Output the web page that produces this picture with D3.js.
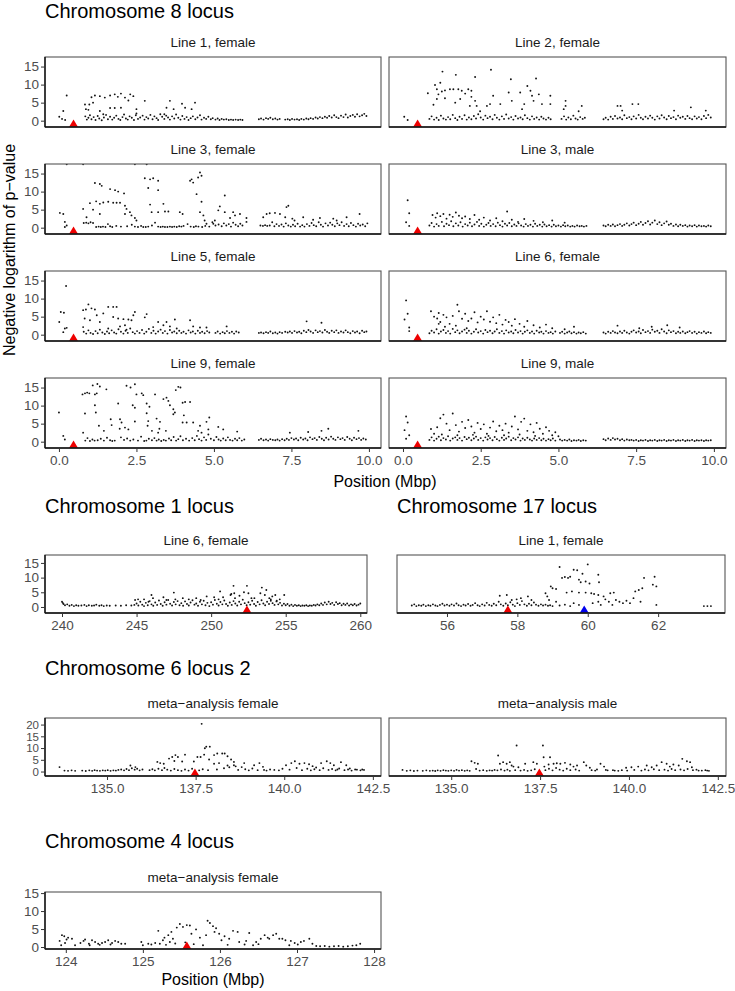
<!DOCTYPE html>
<html><head><meta charset="utf-8">
<script src="https://cdn.jsdelivr.net/npm/d3@7"></script>
<style>
body{margin:0;background:#fff;}
svg{display:block;font-family:"Liberation Sans",Arial,sans-serif;}
</style></head>
<body>
<svg id="chart" width="735" height="991"></svg>
<script>
// ---------------- DATA ----------------
const sectionTitles = ["Chromosome 8 locus","Chromosome 1 locus","Chromosome 17 locus","Chromosome 6 locus 2","Chromosome 4 locus"];
const chr8Ticks = [0, 2.5, 5, 7.5, 10];
const chr1Ticks = [240, 245, 250, 255, 260];
const chr17Ticks = [56, 58, 60, 62];
const chr6Ticks = [135, 137.5, 140, 142.5];
const chr4Ticks = [124, 125, 126, 127, 128];
const yTicksA = [0, 5, 10, 15];
const yTicksB = [0, 5, 10, 15, 20];

// Chromosome 8, Line 1 female
const chr8_L1F = [[0.25,7.0],[0.14,2.7],[0.01,1.1],[0.1,0.5],[0.2,0.2],
[1.05,6.5],[1.16,7.0],[1.32,6.8],[1.48,6.4],[1.65,7.0],[1.8,7.3],[1.9,6.6],[2.0,7.5],[2.13,6.4],[2.3,7.3],[2.4,6.8],[2.24,5.6],
[0.84,4.5],[0.98,4.5],[1.1,5.0],[0.87,3.2],[0.95,3.0],[1.32,2.7],[1.65,3.5],[1.8,3.5],[2.0,3.6],[2.5,3.2],[2.77,5.5],[3.58,5.5],[3.47,3.6],[3.7,3.2],[3.97,4.7],[4.07,3.6],[4.39,5.0],[4.28,3.2],[2.5,2.0],[1.43,1.8],[3.4,1.8],
[0.85,1.2],[0.9,0.3],[0.95,0.8],[1.0,1.5],[1.05,0.4],[1.12,1.0],[1.18,0.2],[1.25,1.3],[1.3,0.6],[1.38,0.1],[1.45,0.9],[1.52,1.6],[1.58,0.4],[1.65,1.1],[1.72,0.3],[1.78,0.8],[1.85,1.4],[1.92,0.5],[1.98,0.2],[2.05,1.0],[2.1,1.7],[2.16,0.6],[2.22,0.3],[2.28,1.2],[2.35,0.8],[2.42,0.2],[2.48,1.5],[2.55,0.5],[2.62,0.9],[2.7,1.4],[2.76,0.3],[2.82,1.0],[2.88,0.6],[2.95,1.6],[3.02,0.4],[3.08,1.2],[3.15,0.7],[3.2,0.2],[3.27,1.8],[3.33,1.1],[3.4,0.5],[3.46,1.4],[3.52,0.9],[3.58,0.3],[3.65,1.2],[3.72,0.6],[3.78,1.7],[3.85,0.8],[3.92,0.3],[3.98,1.3],[4.05,0.5],[4.12,1.0],[4.18,0.2],[4.25,0.7],[4.32,1.2],[4.4,0.4],[4.47,0.9],[4.55,1.5],[4.6,0.3],[4.68,0.8],[4.75,0.5],[4.82,1.1],[4.9,0.4],[4.96,0.7],[5.05,0.3],[5.12,0.6],[5.18,0.2],[5.25,0.5],[5.32,0.3],[5.4,0.4],[5.48,0.2],[5.55,0.3],[5.62,0.2],[5.7,0.3],[5.78,0.2],[5.85,0.3],[5.92,0.2],[6.45,0.4],[6.52,0.6],[6.6,0.3],[6.68,0.7],[6.75,0.5],[6.82,0.8],[6.9,0.4],[6.98,0.6],[7.05,0.3],[7.12,0.5],[7.3,0.3],[7.38,0.4],[7.45,0.2],[7.52,0.5],[7.6,0.3],[7.68,0.4],[7.75,0.2],[7.82,0.5],[7.9,0.3],[7.98,0.6],[8.05,0.4],[8.12,0.7],[8.2,0.5],[8.28,0.9],[8.35,0.6],[8.42,1.0],[8.5,0.7],[8.58,1.1],[8.65,0.8],[8.72,1.3],[8.8,0.9],[8.88,1.5],[8.95,1.0],[9.02,0.7],[9.1,1.4],[9.18,1.0],[9.25,1.7],[9.32,0.9],[9.4,1.3],[9.48,1.6],[9.55,1.1],[9.62,1.8],[9.7,1.2],[9.78,1.5],[9.85,1.9],[9.92,1.3]];

// Chromosome 8, Line 2 female
const chr8_L2F = [[0.04,1.1],[0.15,0.2],
[1.27,13.6],[1.7,12.7],[2.32,12.1],[2.83,14.1],[3.47,11.5],[4.28,11.7],
[0.8,7.6],[1.03,9.9],[1.09,8.7],[1.2,10.5],[1.14,7.3],[1.25,8.1],[1.35,8.4],[1.51,8.7],[1.62,8.7],[1.78,8.7],[1.89,8.3],[2.0,7.5],[2.1,8.7],[2.2,8.3],[1.35,6.2],[1.09,6.0],[0.98,4.4],[1.68,5.0],[1.84,6.0],[2.2,6.6],[2.32,5.5],[2.15,4.1],[2.37,4.1],[2.48,2.6],[2.7,4.1],[2.9,6.9],[2.8,4.6],[3.13,4.6],[3.4,7.8],[3.5,5.5],[3.77,7.8],[3.9,4.6],[4.0,9.6],[4.1,8.3],[4.15,6.9],[4.37,7.3],[4.47,4.6],[4.74,6.9],[4.74,4.6],[3.83,3.2],[4.2,5.5],[5.23,5.5],[5.23,4.1],[5.17,3.2],[5.75,4.1],[5.65,2.6],[6.9,4.1],[7.0,4.1],[7.38,4.6],[7.57,4.6],[7.05,2.8],[8.72,2.8],[9.26,3.7],[9.74,2.8],
[0.85,0.5],[0.92,1.2],[1.0,0.3],[1.08,0.8],[1.15,0.2],[1.22,1.4],[1.3,0.6],[1.38,0.3],[1.45,1.0],[1.52,0.4],[1.6,1.6],[1.68,0.7],[1.75,0.2],[1.82,1.1],[1.9,0.5],[1.98,1.5],[2.05,0.3],[2.12,0.9],[2.2,0.4],[2.28,1.3],[2.35,0.6],[2.42,1.8],[2.5,0.9],[2.58,0.3],[2.65,1.4],[2.72,0.7],[2.8,1.1],[2.88,0.4],[2.95,1.6],[3.02,0.8],[3.1,0.3],[3.18,1.2],[3.25,0.5],[3.32,1.7],[3.4,0.6],[3.48,1.0],[3.55,0.3],[3.62,1.3],[3.7,0.6],[3.78,0.9],[3.85,0.4],[3.92,1.5],[4.0,0.7],[4.08,0.3],[4.15,1.2],[4.22,0.5],[4.3,0.9],[4.38,0.3],[4.45,1.1],[4.52,0.6],[4.6,0.3],[4.68,0.8],[4.75,0.4],[5.1,0.5],[5.18,1.2],[5.25,0.3],[5.32,0.9],[5.4,0.4],[5.48,1.4],[5.55,0.6],[5.62,0.3],[5.7,1.0],[5.78,0.5],[5.85,0.8],[6.45,0.4],[6.52,0.8],[6.6,0.3],[6.68,1.1],[6.75,0.5],[6.82,1.3],[6.9,0.6],[6.98,0.9],[7.05,0.4],[7.12,1.5],[7.2,0.7],[7.28,1.0],[7.35,0.4],[7.42,1.2],[7.5,0.6],[7.58,1.6],[7.65,0.8],[7.72,0.4],[7.8,1.1],[7.88,0.6],[7.95,1.4],[8.02,0.8],[8.1,0.3],[8.18,1.2],[8.25,0.6],[8.32,1.5],[8.4,0.9],[8.48,0.4],[8.55,1.3],[8.62,0.7],[8.7,1.0],[8.78,0.4],[8.85,1.4],[8.92,0.8],[9.0,1.1],[9.08,0.5],[9.15,1.3],[9.22,0.7],[9.3,0.4],[9.38,1.2],[9.45,0.6],[9.52,1.0],[9.6,0.4],[9.68,1.3],[9.75,0.7],[9.82,1.6],[9.9,0.9]];

// Chromosome 8, Line 3 female
const chr8_L3F = [[0.25,17.6],[0.78,17.6],[2.45,17.6],[2.83,17.6],
[0.03,4.1],[0.14,3.8],[0.19,1.6],[0.25,0.6],[0.19,0.2],
[1.16,12.4],[1.32,12.1],[1.38,11.6],[1.65,10.7],[1.81,10.4],[1.91,10.0],[2.1,9.5],
[0.78,5.2],[1.0,6.8],[1.1,5.0],[1.2,7.3],[1.32,6.6],[1.43,7.0],[1.59,7.2],[1.75,6.9],[1.86,6.9],[1.97,6.9],[2.13,6.1],[2.18,5.2],[2.13,3.8],[2.29,4.3],[2.34,3.4],[2.45,2.7],[2.5,2.0],[0.89,2.9],[1.32,3.8],
[2.77,13.7],[2.94,13.4],[3.04,13.7],[3.2,13.0],[2.88,11.0],[3.2,10.4],[2.94,6.4],[2.99,4.3],[3.37,6.6],[3.2,4.3],[3.42,4.5],[3.53,4.5],[3.9,4.3],[3.99,3.8],
[4.23,13.0],[4.33,12.5],[4.28,13.4],[4.49,13.9],[4.55,15.3],[4.6,14.4],[4.44,9.3],[4.6,7.2],[4.55,4.3],[4.66,3.4],[4.7,2.0],[4.76,1.1],[4.98,1.1],[5.03,2.0],
[5.19,5.9],[5.14,4.8],[5.35,4.3],[5.35,8.9],[5.52,2.7],[5.62,4.3],[5.68,3.4],[5.84,3.8],[6.05,2.7],
[7.4,6.1],[7.34,5.7],[6.59,2.9],[6.7,3.8],[6.8,4.0],[6.97,4.1],[7.13,3.8],[7.3,2.9],[7.53,2.5],[7.6,2.0],[7.88,2.9],[8.2,2.2],[8.42,2.7],[8.85,2.5],[9.28,2.9],[9.7,3.8],[8.96,2.0],
[0.8,1.3],[0.88,1.4],[0.95,1.2],[1.02,1.5],[1.1,1.3],[1.2,0.2],[1.28,0.3],[1.35,0.2],[1.42,0.3],[1.5,0.2],[1.58,1.0],[1.65,0.4],[1.72,0.2],[1.85,0.5],[2.0,0.3],[2.2,0.4],[2.35,0.8],[2.45,0.3],[2.55,0.2],[2.65,0.5],[2.72,0.2],[2.8,0.2],[2.88,0.3],[3.0,0.6],[3.1,1.4],[3.2,0.3],[3.28,0.2],[3.35,0.3],[3.42,0.2],[3.5,0.2],[3.58,0.3],[3.65,0.2],[3.72,0.3],[3.8,0.2],[3.88,0.4],[3.95,0.3],[4.02,0.5],[4.15,1.0],[4.25,0.3],[4.35,0.2],[4.42,0.4],[4.5,0.3],[4.62,0.2],[4.72,0.5],[4.85,0.3],[4.95,1.5],[5.05,0.6],[5.15,0.9],[5.25,0.4],[5.32,1.2],[5.4,0.6],[5.48,1.0],[5.55,0.3],[5.62,1.4],[5.7,0.8],[5.78,0.4],[5.85,1.1],[5.92,0.6],[6.05,1.6],[6.5,0.6],[6.58,0.5],[6.65,0.7],[6.72,0.5],[6.8,0.6],[6.88,1.5],[6.95,0.4],[7.02,1.0],[7.1,0.5],[7.18,0.9],[7.25,0.3],[7.32,1.2],[7.4,0.6],[7.48,0.3],[7.55,0.8],[7.62,0.4],[7.7,1.1],[7.78,0.3],[7.85,0.7],[7.92,0.3],[8.0,1.0],[8.08,0.5],[8.15,1.3],[8.22,0.7],[8.3,0.4],[8.38,1.5],[8.45,0.8],[8.52,0.3],[8.6,1.2],[8.68,0.6],[8.75,1.4],[8.82,0.8],[8.9,0.4],[8.98,1.2],[9.05,0.7],[9.12,1.5],[9.2,0.5],[9.28,1.0],[9.35,0.4],[9.42,1.3],[9.5,0.7],[9.58,0.3],[9.65,1.1],[9.72,0.6],[9.8,0.9],[9.88,0.4],[9.95,1.2]];

// Chromosome 8, Line 3 male
const chr8_L3M = [[0.15,7.6],[0.2,4.0],[0.1,1.5],[0.2,0.5],
[0.95,3.5],[1.05,2.8],[1.1,4.0],[1.2,3.2],[1.3,3.8],[1.4,2.5],[1.5,3.6],[1.6,3.0],[1.7,4.2],[1.8,3.3],[1.9,2.6],[2.0,3.1],[2.15,2.4],[2.3,3.5],[2.45,2.2],[2.6,2.8],[2.8,2.0],[3.0,2.6],[3.2,1.8],[3.35,4.5],[3.5,2.2],[3.7,1.6],[3.9,2.4],[4.2,1.9],[4.5,1.5],[4.8,2.0],[5.2,1.4],
[0.85,0.6],[0.92,1.3],[1.0,0.3],[1.08,1.0],[1.15,0.5],[1.25,1.6],[1.32,0.4],[1.4,1.1],[1.48,0.7],[1.55,1.8],[1.62,0.4],[1.7,1.2],[1.78,0.6],[1.85,1.5],[1.92,0.3],[2.0,1.0],[2.08,0.6],[2.15,1.4],[2.22,0.4],[2.3,0.9],[2.38,1.6],[2.45,0.5],[2.52,1.1],[2.6,0.3],[2.68,0.8],[2.75,1.3],[2.82,0.5],[2.9,1.0],[2.98,0.4],[3.05,1.4],[3.12,0.7],[3.2,0.3],[3.28,1.1],[3.35,0.6],[3.42,1.3],[3.5,0.4],[3.58,0.9],[3.65,0.5],[3.72,1.2],[3.8,0.6],[3.88,0.3],[3.95,1.0],[4.02,0.5],[4.1,0.8],[4.18,0.3],[4.25,1.1],[4.32,0.5],[4.4,0.8],[4.48,0.3],[4.55,0.9],[4.62,0.4],[4.7,0.7],[4.78,0.3],[4.85,0.8],[4.92,0.4],[5.0,0.6],[5.08,0.3],[5.15,0.7],[5.22,0.4],[5.3,0.6],[5.38,0.3],[5.45,0.5],[5.52,0.3],[5.6,0.6],[5.68,0.4],[5.75,0.5],[5.82,0.3],[5.9,0.5],[6.45,0.6],[6.52,0.4],[6.6,0.8],[6.68,0.5],[6.75,0.9],[6.82,0.4],[6.9,0.7],[6.98,1.0],[7.05,0.5],[7.12,0.8],[7.2,1.2],[7.28,0.6],[7.35,1.0],[7.42,1.4],[7.5,0.7],[7.58,1.1],[7.65,1.6],[7.72,0.8],[7.8,1.3],[7.88,1.8],[7.95,0.9],[8.02,1.4],[8.1,2.0],[8.18,1.0],[8.25,1.5],[8.32,0.7],[8.4,1.2],[8.48,1.7],[8.55,0.8],[8.62,1.1],[8.7,0.5],[8.78,0.9],[8.85,0.4],[8.92,0.8],[9.0,0.5],[9.08,0.7],[9.15,0.3],[9.22,0.6],[9.3,0.4],[9.38,0.7],[9.45,0.3],[9.52,0.6],[9.6,0.4],[9.68,0.5],[9.75,0.3],[9.82,0.6],[9.9,0.4]];

// Chromosome 8, Line 5 female
const chr8_L5F = [[0.01,3.5],[0.06,6.3],[0.16,6.1],[0.23,13.5],[0.19,1.7],[0.25,1.9],[0.14,0.7],
[0.78,6.8],[0.87,7.0],[0.95,8.4],[1.05,7.3],[1.16,7.0],[1.22,5.4],[0.83,4.5],[1.0,4.0],[1.32,3.5],[1.43,5.9],[1.59,7.7],[1.75,7.7],[1.86,7.7],[1.75,4.9],[1.91,4.5],[2.08,4.3],[2.24,4.2],[2.34,4.0],[2.4,5.4],[2.45,6.3],[0.78,2.1],[1.59,1.7],[1.97,2.3],[2.13,2.6],[2.18,1.4],
[2.83,5.7],[2.77,4.8],[3.2,3.5],[3.47,3.5],[3.74,4.2],[4.23,4.0],[3.04,2.1],[3.37,2.6],[3.58,2.3],[3.8,1.7],[4.33,2.3],[4.55,2.0],[4.76,2.0],[5.41,2.3],[7.99,3.7],[8.47,3.3],
[0.8,0.8],[0.88,0.3],[0.95,1.2],[1.02,0.5],[1.1,0.2],[1.18,1.0],[1.25,0.4],[1.32,1.4],[1.4,0.6],[1.48,0.2],[1.55,0.9],[1.62,0.4],[1.7,1.2],[1.78,0.6],[1.85,0.3],[1.92,1.5],[2.0,0.8],[2.08,0.3],[2.15,1.1],[2.22,0.5],[2.3,1.7],[2.38,0.7],[2.45,0.3],[2.52,1.0],[2.6,0.5],[2.68,1.3],[2.75,0.3],[2.82,0.8],[2.9,1.6],[2.98,0.5],[3.05,1.1],[3.12,0.3],[3.2,0.9],[3.28,1.4],[3.35,0.5],[3.42,1.0],[3.5,0.3],[3.58,1.3],[3.65,0.6],[3.72,0.9],[3.8,0.4],[3.88,1.1],[3.95,0.5],[4.02,0.8],[4.1,0.3],[4.18,1.2],[4.25,0.6],[4.32,0.9],[4.4,0.3],[4.48,1.1],[4.55,0.5],[4.62,0.8],[4.7,0.4],[4.78,1.0],[4.85,0.6],[5.05,0.5],[5.12,0.9],[5.2,0.3],[5.28,0.7],[5.35,0.4],[5.42,1.0],[5.5,0.5],[5.58,0.8],[5.65,0.3],[5.72,0.9],[5.8,0.6],[6.45,0.5],[6.52,0.6],[6.6,0.4],[6.68,0.7],[6.75,0.5],[6.82,0.9],[6.9,0.4],[6.98,0.6],[7.05,0.3],[7.12,0.7],[7.2,0.5],[7.3,0.8],[7.38,0.6],[7.45,0.9],[7.52,0.5],[7.6,1.0],[7.68,0.6],[7.75,0.8],[7.82,0.4],[7.9,1.1],[7.98,0.7],[8.05,1.3],[8.12,0.9],[8.2,0.5],[8.28,1.2],[8.35,0.7],[8.42,1.0],[8.5,0.6],[8.58,1.3],[8.65,0.8],[8.72,0.5],[8.8,1.1],[8.88,0.7],[8.95,1.2],[9.02,0.5],[9.1,0.9],[9.18,0.6],[9.25,1.2],[9.32,0.7],[9.4,0.4],[9.48,1.0],[9.55,0.6],[9.62,0.9],[9.7,0.4],[9.78,1.1],[9.85,0.7],[9.92,0.9]];

// Chromosome 8, Line 6 female
const chr8_L6F = [[0.1,9.5],[0.15,5.8],[0.05,4.2],[0.2,2.0],[0.2,1.0],
[0.9,6.5],[1.0,5.0],[1.1,4.5],[1.15,6.0],[1.2,3.5],[1.3,5.5],[1.4,4.8],[1.5,3.0],[1.6,5.2],[1.75,8.3],[1.8,6.5],[1.9,4.4],[2.0,5.8],[2.1,3.8],[2.2,4.5],[2.3,6.2],[2.4,3.4],[2.5,5.0],[2.6,4.2],[2.7,6.5],[2.8,3.6],[2.9,4.8],[3.0,3.2],[3.1,5.5],[3.2,2.8],[3.3,4.1],[3.4,3.5],[3.5,2.5],[3.6,4.3],[3.75,3.0],[3.9,2.2],[4.0,3.8],[4.2,2.6],[4.4,2.0],[4.6,2.8],[4.8,1.8],[5.2,1.5],[5.5,2.2],[6.9,2.5],[7.6,1.8],[8.0,2.2],[8.5,2.6],[8.9,2.0],[1.15,3.0],[1.35,2.2],[1.7,2.5],[2.05,1.8],
[0.85,0.4],[0.92,1.1],[1.0,0.6],[1.08,1.5],[1.15,0.3],[1.22,0.9],[1.3,1.3],[1.38,0.5],[1.45,1.0],[1.52,0.3],[1.6,1.6],[1.68,0.7],[1.75,1.2],[1.82,0.4],[1.9,0.9],[1.98,1.4],[2.05,0.5],[2.12,1.1],[2.2,0.3],[2.28,0.8],[2.35,1.5],[2.42,0.6],[2.5,1.0],[2.58,0.3],[2.65,1.3],[2.72,0.7],[2.8,1.1],[2.88,0.4],[2.95,0.9],[3.02,1.5],[3.1,0.5],[3.18,1.0],[3.25,0.3],[3.32,1.2],[3.4,0.6],[3.48,0.9],[3.55,0.4],[3.62,1.3],[3.7,0.6],[3.78,1.0],[3.85,0.3],[3.92,0.8],[4.0,1.2],[4.08,0.5],[4.15,0.9],[4.22,0.3],[4.3,1.1],[4.38,0.6],[4.45,0.8],[4.52,0.3],[4.6,1.0],[4.68,0.5],[4.75,0.7],[4.82,0.3],[4.9,0.9],[5.05,0.5],[5.12,0.8],[5.2,0.3],[5.28,0.6],[5.35,0.9],[5.42,0.4],[5.5,0.7],[5.58,0.3],[5.65,0.6],[5.72,0.4],[5.8,0.7],[5.88,0.3],[6.45,0.6],[6.52,0.3],[6.6,0.8],[6.68,0.5],[6.75,1.0],[6.82,0.6],[6.9,0.4],[6.98,0.9],[7.05,0.5],[7.12,1.1],[7.2,0.6],[7.28,0.3],[7.35,0.8],[7.42,1.2],[7.5,0.6],[7.58,0.9],[7.65,0.4],[7.72,1.3],[7.8,0.7],[7.88,1.0],[7.95,0.5],[8.02,1.4],[8.1,0.8],[8.18,1.1],[8.25,0.5],[8.32,1.5],[8.4,0.9],[8.48,0.4],[8.55,1.2],[8.62,0.7],[8.7,1.0],[8.78,0.4],[8.85,0.8],[8.92,0.5],[9.0,0.9],[9.08,0.4],[9.15,0.7],[9.22,1.0],[9.3,0.5],[9.38,0.8],[9.45,0.3],[9.52,0.7],[9.6,0.5],[9.68,0.9],[9.75,0.4],[9.82,0.7],[9.9,0.5]];

// Chromosome 8, Line 9 female
const chr8_L9F = [[0.0,8.1],[0.14,1.6],[0.19,0.6],
[0.76,13.1],[0.84,13.4],[0.91,13.6],[0.98,13.4],[1.09,15.6],[1.24,16.0],[1.32,15.3],[1.53,14.5],[1.16,13.1],[1.22,13.4],[1.16,10.1],[1.19,8.1],[0.84,7.8],[1.29,4.4],[1.45,3.0],[1.67,6.2],[1.7,4.6],[0.78,2.5],
[2.18,15.5],[2.31,15.0],[2.45,15.9],[2.5,13.1],[2.67,13.4],[2.72,12.9],[2.38,10.1],[2.45,9.4],[1.91,10.6],[1.97,6.2],[2.02,5.3],[1.96,3.6],[2.13,3.9],[2.24,3.4],[2.45,5.6],[2.83,10.6],[2.92,9.7],[2.83,7.9],[2.88,5.7],[2.86,4.4],[3.0,3.0],[3.1,13.1],[3.15,6.4],[3.26,5.5],[3.24,3.6],[3.2,2.5],[3.37,11.8],[3.47,12.2],[3.53,11.3],[3.58,10.1],[3.69,9.0],[3.74,8.1],[3.69,7.6],[3.45,3.0],[3.77,14.3],[3.85,15.2],[3.92,15.0],[3.99,10.8],[4.07,11.0],[4.23,11.0],[4.03,7.3],[3.99,5.3],[4.12,5.3],[4.33,5.3],[4.55,4.4],[4.76,5.5],[4.85,6.7],[4.82,3.4],[4.49,3.0],[4.6,2.5],[5.14,4.1],[5.3,3.4],[5.75,2.8],[7.45,2.5],[8.04,2.7],[8.47,3.0],[8.69,3.6],[9.66,3.0],
[0.85,0.3],[0.92,1.0],[1.0,0.2],[1.08,0.6],[1.15,0.3],[1.25,0.4],[1.35,0.8],[1.45,0.3],[1.55,1.1],[1.65,0.4],[1.72,0.2],[1.8,0.3],[2.0,1.2],[2.1,0.5],[2.2,0.9],[2.3,0.3],[2.4,0.6],[2.55,0.3],[2.65,1.4],[2.75,0.2],[2.82,0.3],[2.9,0.8],[3.0,0.4],[3.08,1.0],[3.15,0.3],[3.22,0.6],[3.3,0.2],[3.38,0.5],[3.45,0.3],[3.55,0.9],[3.62,0.4],[3.7,1.3],[3.78,0.3],[3.85,0.7],[3.92,1.5],[4.0,0.4],[4.1,0.8],[4.2,0.3],[4.3,1.0],[4.38,0.4],[4.45,1.6],[4.52,0.7],[4.6,0.3],[4.68,1.2],[4.75,0.5],[4.82,2.0],[4.9,0.8],[5.0,0.4],[5.08,1.3],[5.15,0.6],[5.22,0.3],[5.3,0.9],[5.38,0.4],[5.45,1.2],[5.52,0.5],[5.6,0.3],[5.68,0.8],[5.75,0.4],[5.82,1.0],[5.9,0.3],[5.98,0.6],[6.45,0.5],[6.52,0.8],[6.6,0.4],[6.68,0.6],[6.75,0.3],[6.82,0.7],[6.9,0.5],[6.98,0.4],[7.05,0.6],[7.12,0.3],[7.2,0.7],[7.28,0.4],[7.35,0.8],[7.42,0.5],[7.5,1.0],[7.58,0.6],[7.65,0.9],[7.72,0.4],[7.8,1.1],[7.88,0.6],[7.95,0.9],[8.02,0.4],[8.1,1.2],[8.18,0.7],[8.25,1.0],[8.32,0.5],[8.4,1.3],[8.48,0.8],[8.55,0.4],[8.62,1.1],[8.7,0.6],[8.78,1.4],[8.85,0.8],[8.92,0.5],[9.0,1.2],[9.08,0.7],[9.15,1.0],[9.22,0.5],[9.3,1.3],[9.38,0.8],[9.45,0.4],[9.52,1.1],[9.6,0.7],[9.68,1.0],[9.75,0.5],[9.82,0.9],[9.9,0.6]];

// Chromosome 8, Line 9 male
const chr8_L9M = [[0.1,7.0],[0.15,5.3],[0.05,3.2],[0.2,1.8],[0.1,0.8],
[0.9,3.5],[1.0,2.2],[1.1,4.0],[1.2,6.5],[1.3,7.5],[1.4,5.0],[1.5,3.2],[1.6,7.8],[1.7,4.6],[1.8,2.8],[1.9,5.5],[2.0,3.8],[2.1,6.0],[2.2,4.2],[2.3,2.5],[2.4,5.2],[2.5,3.5],[2.6,4.8],[2.7,2.2],[2.8,3.9],[2.9,5.6],[3.0,2.9],[3.1,4.4],[3.2,3.2],[3.3,5.0],[3.4,2.5],[3.5,4.2],[3.6,7.0],[3.7,3.4],[3.8,5.5],[3.9,6.4],[4.0,3.0],[4.1,4.8],[4.2,2.6],[4.3,5.2],[4.4,3.6],[4.5,2.2],[4.6,4.0],[4.7,3.0],[4.8,1.8],[4.9,2.6],[5.0,1.5],[1.25,2.0],[1.75,1.8],[2.25,1.9],[2.75,1.6],[3.25,1.8],[3.75,2.0],[4.25,1.6],
[0.85,0.5],[0.92,1.2],[1.0,0.3],[1.08,0.8],[1.15,1.4],[1.22,0.4],[1.3,1.0],[1.38,0.6],[1.45,1.5],[1.52,0.3],[1.6,0.9],[1.68,1.2],[1.75,0.5],[1.82,1.0],[1.9,0.3],[1.98,1.3],[2.05,0.7],[2.12,1.1],[2.2,0.4],[2.28,0.9],[2.35,1.4],[2.42,0.5],[2.5,1.0],[2.58,0.3],[2.65,1.2],[2.72,0.6],[2.8,1.0],[2.88,0.4],[2.95,1.3],[3.02,0.7],[3.1,0.3],[3.18,1.1],[3.25,0.5],[3.32,0.9],[3.4,1.4],[3.48,0.4],[3.55,1.0],[3.62,0.6],[3.7,1.2],[3.78,0.3],[3.85,0.9],[3.92,0.5],[4.0,1.1],[4.08,0.6],[4.15,0.3],[4.22,0.9],[4.3,0.5],[4.38,1.0],[4.45,0.4],[4.52,0.8],[4.6,0.3],[4.68,0.7],[4.75,0.4],[4.82,0.9],[4.9,0.3],[5.05,0.6],[5.12,0.3],[5.2,0.5],[5.28,0.3],[5.35,0.6],[5.42,0.2],[5.5,0.4],[5.58,0.3],[5.65,0.5],[5.72,0.2],[5.8,0.4],[5.88,0.3],[6.45,0.7],[6.52,0.4],[6.6,0.9],[6.68,0.5],[6.75,1.0],[6.82,0.6],[6.9,0.8],[6.98,0.4],[7.05,0.7],[7.12,0.3],[7.2,0.6],[7.28,0.4],[7.35,0.5],[7.42,0.3],[7.5,0.5],[7.58,0.2],[7.65,0.4],[7.72,0.3],[7.8,0.5],[7.88,0.2],[7.95,0.4],[8.02,0.3],[8.1,0.5],[8.18,0.2],[8.25,0.4],[8.32,0.3],[8.4,0.5],[8.48,0.2],[8.55,0.4],[8.62,0.3],[8.7,0.5],[8.78,0.2],[8.85,0.4],[8.92,0.3],[9.0,0.5],[9.08,0.2],[9.15,0.4],[9.22,0.3],[9.3,0.5],[9.38,0.2],[9.45,0.4],[9.52,0.3],[9.6,0.4],[9.68,0.2],[9.75,0.4],[9.82,0.3],[9.9,0.4]];

// Chromosome 1, Line 6 female
const chr1_L6F = [[244.9,2.4],[245.1,2.6],[245.5,2.6],[245.8,1.8],[246.0,4.1],[246.1,3.0],[246.8,3.3],[247.0,2.4],[247.5,4.9],[247.6,2.6],[248.1,3.0],[248.5,2.6],[249.0,3.0],[249.3,2.4],[249.7,3.6],[250.2,3.3],[250.5,2.6],[250.6,5.3],[250.8,3.3],[251.3,4.1],[251.5,7.2],[251.35,4.4],[251.55,4.7],[251.6,3.0],[251.9,3.8],[252.4,7.2],[252.2,5.0],[252.5,4.7],[252.7,3.0],[252.9,3.0],[253.4,6.6],[253.7,5.8],[253.3,4.7],[253.6,4.1],[254.1,3.6],[254.3,4.1],[254.4,2.1],[254.9,4.1],[253.9,3.0],[254.0,2.1],[254.6,2.6],
[240.0,1.8],[240.05,1.4],[240.1,1.0],[240.2,0.6],[240.35,0.9],[240.5,0.4],[240.65,0.7],[240.8,0.3],[240.95,0.6],[241.1,0.4],[241.3,0.5],[241.5,0.7],[241.65,0.3],[241.8,0.6],[242.0,0.4],[242.15,0.5],[242.3,0.8],[242.5,0.4],[242.65,0.6],[242.8,0.3],[243.0,0.5],[243.2,0.4],[243.6,0.5],[243.95,0.4],[244.3,0.6],[244.65,0.5],[244.85,0.7],
[245.0,1.2],[245.12,0.5],[245.25,1.8],[245.38,0.8],[245.5,0.3],[245.62,1.4],[245.75,0.6],[245.88,2.0],[246.0,0.9],[246.12,0.4],[246.25,1.5],[246.38,0.7],[246.5,2.2],[246.62,1.0],[246.75,0.4],[246.88,1.6],[247.0,0.8],[247.12,2.4],[247.25,1.1],[247.38,0.5],[247.5,1.7],[247.62,0.9],[247.75,2.0],[247.88,0.6],[248.0,1.3],[248.12,0.4],[248.25,1.9],[248.38,1.0],[248.5,0.5],[248.62,1.5],[248.75,2.3],[248.88,0.8],[249.0,1.2],[249.12,0.4],[249.25,1.8],[249.38,0.9],[249.5,2.1],[249.62,0.6],[249.75,1.4],[249.88,0.3],[250.0,1.6],[250.12,0.8],[250.25,2.4],[250.38,1.1],[250.5,0.5],[250.62,1.7],[250.75,0.9],[250.88,2.2],[251.0,1.0],[251.12,0.4],[251.25,1.5],[251.38,0.7],[251.5,2.0],[251.62,1.2],[251.75,0.5],[251.88,1.8],[252.0,0.9],[252.12,2.5],[252.25,1.3],[252.38,0.6],[252.5,1.6],[252.62,0.8],[252.75,2.1],[252.88,1.0],[253.0,0.4],[253.12,1.7],[253.25,0.9],[253.38,2.3],[253.5,1.2],[253.62,0.6],[253.75,1.8],[253.88,1.0],[254.0,2.6],[254.12,1.3],[254.25,0.7],[254.38,1.9],[254.5,0.9],[254.62,1.4],[254.75,0.5],[254.88,1.1],[255.0,0.6],[255.12,1.0],[255.25,0.4],[255.38,0.8],[255.5,0.3],[255.62,0.7],[255.75,0.4],[255.88,0.6],[256.0,0.3],[256.12,0.5],[256.25,0.4],[256.38,0.6],[256.5,0.3],[256.62,0.5],[256.75,0.4],[256.88,0.7],[257.0,0.5],[257.12,0.9],[257.25,0.6],[257.38,1.2],[257.5,0.7],[257.62,1.5],[257.75,0.9],[257.88,1.8],[258.0,1.0],[258.12,1.4],[258.25,0.7],[258.38,1.6],[258.5,1.0],[258.62,1.3],[258.75,0.6],[258.88,1.1],[259.0,0.7],[259.12,1.2],[259.25,0.5],[259.38,0.9],[259.5,0.6],[259.62,1.0],[259.75,0.5],[259.88,0.8],[260.0,1.2]];

// Chromosome 17, Line 1 female
const chr17_L1F = [[57.5,3.8],[57.7,4.1],[57.84,2.4],[57.98,2.6],[58.1,3.0],[58.3,3.6],[58.4,2.4],[58.8,4.7],[58.85,3.6],[58.95,7.0],[59.0,6.4],[59.1,6.1],[58.9,2.4],[59.1,1.8],
[59.2,13.6],[59.27,9.9],[59.35,10.2],[59.44,9.9],[59.5,10.3],[59.6,12.7],[59.7,12.5],[59.75,9.3],[59.85,11.3],[59.8,8.4],[59.94,8.7],[60.0,14.5],[60.05,8.0],[60.3,11.0],[60.32,8.4],[59.4,4.9],[59.55,5.3],[59.75,4.9],[59.94,4.9],[60.1,4.7],[60.18,4.4],[60.3,4.1],[60.45,3.6],[60.64,4.7],[60.74,4.9],[60.5,2.6],[60.6,1.8],[60.8,2.4],[60.9,1.8],[61.1,2.1],[61.3,3.0],[61.35,5.3],[61.45,5.8],[61.55,6.4],[61.6,9.9],[61.9,10.3],[61.85,7.6],[61.95,7.0],[59.6,1.3],[59.75,0.7],[60.14,1.3],[60.3,1.8],[60.37,0.7],[60.7,0.7],[61.0,1.3],[61.2,1.3],[61.5,1.8],[61.95,0.7],[63.3,0.3],[63.4,0.3],[63.5,0.3],[59.2,0.5],[59.35,0.8],[59.5,0.3],
[55.0,0.5],[55.07,0.9],[55.13,0.3],[55.2,0.6],[55.27,0.4],[55.33,0.8],[55.4,0.3],[55.47,0.6],[55.53,0.4],[55.6,0.9],[55.67,0.5],[55.73,0.3],[55.8,0.7],[55.87,1.1],[55.93,0.5],[56.0,0.8],[56.07,0.4],[56.13,0.9],[56.2,0.5],[56.27,1.2],[56.33,0.6],[56.4,0.3],[56.47,0.8],[56.53,0.5],[56.6,1.0],[56.67,0.4],[56.73,0.7],[56.8,1.3],[56.87,0.6],[56.93,0.3],[57.0,0.9],[57.07,0.5],[57.13,1.4],[57.2,0.7],[57.27,0.4],[57.33,1.1],[57.4,0.6],[57.47,1.8],[57.53,0.9],[57.6,0.4],[57.67,1.2],[57.73,0.6],[57.8,1.6],[57.87,0.8],[57.93,0.3],[58.0,1.3],[58.07,0.7],[58.13,2.0],[58.2,0.9],[58.27,0.4],[58.33,1.1],[58.4,0.6],[58.47,1.5],[58.53,0.8],[58.6,0.4],[58.67,0.9],[58.73,0.5],[58.8,0.8],[58.87,0.4],[58.93,0.6],[59.0,0.3]];

// Chromosome 6 locus 2, meta-analysis female
const chr6_MF = [[133.66,1.9],[135.66,2.6],[135.8,1.9],
[136.42,4.1],[136.5,3.6],[136.6,3.3],[136.75,5.5],[136.84,6.2],[136.93,7.0],[137.0,6.2],[136.9,4.5],[137.12,4.3],[137.2,7.2],[137.45,4.3],[137.55,6.2],[137.64,6.2],[137.67,20.3],[137.74,7.2],[137.76,9.9],[137.8,10.6],[137.9,10.6],[137.88,5.1],[138.02,7.0],[138.11,7.7],[138.25,7.7],[138.32,7.7],[138.4,6.5],[138.5,5.1],[138.58,4.1],[138.63,2.2],[138.02,3.3],[138.16,3.6],[138.4,2.6],[138.8,1.9],
[138.58,2.7],[138.87,3.6],[139.15,2.7],[139.3,3.6],[139.4,2.0],[139.43,0.7],[139.72,0.7],[140.05,2.7],[140.2,3.6],[140.3,4.4],[140.43,3.3],[140.57,3.6],[140.7,3.1],[140.8,2.3],[140.9,1.7],[141.04,3.6],[141.2,4.4],[141.3,3.6],[141.4,2.7],[141.5,0.9],[141.6,4.0],[141.75,2.7],[141.85,1.3],[142.0,0.9],[142.2,0.9],
[133.8,0.4],[133.9,0.3],[134.0,0.5],[134.1,0.3],[134.3,0.4],[134.4,0.2],[134.5,0.5],[134.58,0.3],[134.65,0.6],[134.72,0.4],[134.8,0.3],[134.88,0.5],[134.95,0.4],[135.02,0.6],[135.1,0.3],[135.18,0.5],[135.25,0.4],[135.32,0.7],[135.4,0.9],[135.48,0.5],[135.55,1.1],[135.62,0.6],[135.7,1.4],[135.78,0.8],[135.85,1.2],[135.92,0.5],[136.0,0.9],[136.2,0.6],[136.28,1.0],[136.35,0.5],[136.45,1.2],[136.55,0.6],[136.62,1.5],[136.7,0.8],[136.8,0.4],[136.9,1.1],[137.0,0.6],[137.1,0.3],[137.2,0.9],[137.3,0.4],[137.4,1.2],[137.6,0.5],[137.7,1.0],[137.85,0.6],[138.1,0.9],[138.3,1.4],[138.45,1.8],[138.7,0.7],[138.9,1.0],[139.0,0.5],[139.1,1.3],[139.25,0.6],[139.5,0.4],[139.6,0.9],[139.85,0.5],[139.95,1.2],[140.15,0.8],[140.35,1.5],[140.5,0.6],[140.65,1.2],[140.75,0.5],[140.85,1.0],[141.0,0.6],[141.1,1.4],[141.25,0.7],[141.35,1.1],[141.45,0.5],[141.55,1.3],[141.7,0.6],[141.8,0.9],[141.9,0.4],[142.05,0.8],[142.15,0.5],[142.25,0.7]];

// Chromosome 6 locus 2, meta-analysis male
const chr6_MM = [[133.63,0.7],[135.57,4.4],[135.66,3.7],[135.75,3.3],[135.7,1.1],
[136.32,6.8],[136.37,3.3],[136.46,4.0],[136.56,3.3],[136.65,4.0],[136.7,2.6],[136.84,11.1],[136.75,2.1],[136.89,1.8],[137.08,3.3],[137.31,4.0],[137.41,3.3],[137.58,11.1],[137.6,6.1],[137.78,6.1],[137.62,2.1],[137.74,3.0],[137.88,3.3],[137.97,3.5],[138.07,3.3],[138.2,3.7],[138.35,3.0],[138.44,2.1],[138.54,2.6],[138.73,4.0],[138.8,2.6],[138.9,1.6],[139.05,0.4],[139.2,3.3],[139.3,2.1],[139.35,0.7],[139.6,0.4],[139.92,1.6],[140.07,1.8],[140.26,2.1],[140.5,2.6],[140.64,1.8],[140.78,2.6],[140.92,4.0],[141.06,3.3],[141.15,2.1],[141.25,3.0],[141.4,2.6],[141.5,5.4],[141.63,4.4],[141.72,4.0],[141.77,1.8],[141.96,0.4],[142.2,0.4],
[133.75,0.3],[133.85,0.5],[133.95,0.2],[134.05,0.4],[134.2,0.3],[134.3,0.5],[134.4,0.3],[134.48,0.4],[134.55,0.2],[134.62,0.5],[134.7,0.3],[134.78,0.6],[134.85,0.4],[134.92,0.3],[135.0,0.5],[135.08,0.3],[135.15,0.7],[135.22,0.4],[135.3,0.6],[135.38,0.3],[135.45,0.5],[135.52,0.3],[135.8,0.4],[135.9,0.6],[136.0,0.3],[136.08,0.5],[136.15,0.4],[136.22,0.7],[136.3,0.5],[136.4,0.9],[136.5,0.4],[136.58,0.8],[136.65,0.3],[136.8,0.6],[136.95,0.4],[137.05,0.7],[137.15,0.3],[137.25,0.5],[137.35,1.0],[137.65,0.6],[137.75,1.2],[137.85,0.5],[137.95,1.5],[138.05,0.8],[138.15,0.4],[138.25,1.2],[138.35,0.6],[138.5,0.9],[138.6,0.4],[138.95,0.6],[139.1,0.9],[139.4,0.5],[139.55,0.6],[139.7,0.3],[139.8,0.6],[139.95,0.4],[140.15,0.7],[140.35,0.4],[140.45,0.9],[140.55,0.5],[140.7,1.0],[140.85,0.6],[141.0,0.8],[141.1,0.4],[141.2,1.1],[141.3,0.6],[141.45,0.9],[141.55,0.5],[141.65,1.1],[141.8,0.6],[141.9,0.8],[142.05,0.4],[142.15,0.6],[142.25,0.3]];

// Chromosome 4, meta-analysis female
const chr4_MF = [[123.92,1.7],[123.95,3.3],[123.98,3.0],[123.99,1.1],[124.01,2.1],[124.03,2.6],[124.08,2.3],[123.94,0.5],[124.12,0.5],[124.19,1.1],[124.23,1.7],[124.25,2.1],[124.3,0.9],[124.34,1.9],[124.38,1.4],[124.42,0.9],[124.47,1.1],[124.51,1.4],[124.55,1.9],[124.6,1.1],[124.64,1.7],[124.68,1.4],[124.72,0.9],[124.77,0.9],[124.31,0.5],[124.44,0.6],[124.58,0.7],
[124.98,1.4],[125.0,0.5],[125.07,0.9],[125.11,0.7],[125.16,1.1],[125.2,4.5],[125.22,0.9],[125.26,1.9],[125.28,2.6],[125.33,3.3],[125.35,1.4],[125.37,4.2],[125.39,2.3],[125.44,5.4],[125.48,6.4],[125.52,5.6],[125.57,6.1],[125.61,6.0],[125.63,3.7],[125.69,4.9],[125.74,2.6],[125.78,0.5],[125.82,3.3],[125.84,7.3],[125.87,6.7],[125.91,5.8],[125.95,5.2],[125.93,4.2],[125.99,3.7],[126.02,1.9],[126.06,3.0],[126.12,2.3],[126.17,4.5],[126.23,4.2],[126.25,1.4],[126.32,0.7],[126.34,1.7],[126.38,3.9],[126.43,0.5],[126.47,1.4],[126.53,2.3],[126.58,3.3],[126.62,2.6],[126.64,2.3],[126.69,3.3],[126.73,3.7],[126.77,2.3],[126.81,2.3],[126.85,1.9],[126.92,1.7],[126.97,1.1],[127.01,0.7],[127.05,1.4],[127.09,1.7],[127.16,2.3],[127.2,0.9],[127.25,0.3],
[125.3,0.6],[125.42,1.0],[125.55,1.3],[125.66,0.8],[126.1,0.6],[126.5,0.8],[126.9,0.5],
[127.3,0.2],[127.36,0.3],[127.42,0.1],[127.48,0.2],[127.54,0.3],[127.6,0.1],[127.66,0.2],[127.72,0.4],[127.77,0.5],[127.82,0.9]];

// Marker positions (triangles)
const chr8Marker = [0.47];
const chr1Marker = [252.4];
const chr17Markers = [57.73, 59.9];
const chr6Marker = [137.48];
const chr4Marker = [125.57];

// ---------------- LAYOUT / DRAW ----------------
const svg = d3.select("#chart");
const FONT = '"Liberation Sans", Arial, sans-serif';
const f1 = d3.format(".1f"), f0 = d3.format("d");
const yDom8 = [-1.75, 17.65];
const dom8 = [-0.45, 10.39];

const panels = [
  {t:"Line 1, female", d:chr8_L1F, x:[45,381], y:[57,127], xd:dom8, yd:yDom8, yt:yTicksA, xt:null, tri:chr8Marker.map(v=>[v,"#ee0000"])},
  {t:"Line 2, female", d:chr8_L2F, x:[389,726], y:[57,127], xd:dom8, yd:yDom8, yt:null, xt:null, tri:chr8Marker.map(v=>[v,"#ee0000"])},
  {t:"Line 3, female", d:chr8_L3F, x:[45,381], y:[164,234], xd:dom8, yd:yDom8, yt:yTicksA, xt:null, tri:chr8Marker.map(v=>[v,"#ee0000"])},
  {t:"Line 3, male", d:chr8_L3M, x:[389,726], y:[164,234], xd:dom8, yd:yDom8, yt:null, xt:null, tri:chr8Marker.map(v=>[v,"#ee0000"])},
  {t:"Line 5, female", d:chr8_L5F, x:[45,381], y:[271,341], xd:dom8, yd:yDom8, yt:yTicksA, xt:null, tri:chr8Marker.map(v=>[v,"#ee0000"])},
  {t:"Line 6, female", d:chr8_L6F, x:[389,726], y:[271,341], xd:dom8, yd:yDom8, yt:null, xt:null, tri:chr8Marker.map(v=>[v,"#ee0000"])},
  {t:"Line 9, female", d:chr8_L9F, x:[45,381], y:[378,448], xd:dom8, yd:yDom8, yt:yTicksA, xt:chr8Ticks, xf:f1, tri:chr8Marker.map(v=>[v,"#ee0000"])},
  {t:"Line 9, male", d:chr8_L9M, x:[389,726], y:[378,448], xd:dom8, yd:yDom8, yt:null, xt:chr8Ticks, xf:f1, tri:chr8Marker.map(v=>[v,"#ee0000"])},
  {t:"Line 6, female", d:chr1_L6F, x:[45,367], y:[555,613], xd:[238.86,260.45], yd:[-2.05,17.7], yt:yTicksA, xt:chr1Ticks, xf:f0, tri:chr1Marker.map(v=>[v,"#ee0000"])},
  {t:"Line 1, female", d:chr17_L1F, x:[397,725], y:[555,613], xd:[54.58,63.9], yd:[-2.05,17.7], yt:null, xt:chr17Ticks, xf:f0, tri:[[chr17Markers[0],"#ee0000"],[chr17Markers[1],"#0000ee"]]},
  {t:"meta\u2212analysis female", d:chr6_MF, x:[45,381], y:[718,776], xd:[133.25,142.73], yd:[-1.9,22.8], yt:yTicksB, ys:11.5, xt:chr6Ticks, xf:f1, tri:chr6Marker.map(v=>[v,"#ee0000"])},
  {t:"meta\u2212analysis male", d:chr6_MM, x:[389,726], y:[718,776], xd:[133.25,142.73], yd:[-1.9,22.8], yt:null, xt:chr6Ticks, xf:f1, tri:chr6Marker.map(v=>[v,"#ee0000"])},
  {t:"meta\u2212analysis female", d:chr4_MF, x:[45,381], y:[892,949], xd:[123.73,128.09], yd:[-0.55,15.3], yt:yTicksA, xt:chr4Ticks, xf:f0, tri:chr4Marker.map(v=>[v,"#ee0000"])}
];

const titles = [
  {t:sectionTitles[0], x:45, y:18},
  {t:sectionTitles[1], x:45, y:513},
  {t:sectionTitles[2], x:397, y:513},
  {t:sectionTitles[3], x:45, y:675},
  {t:sectionTitles[4], x:45, y:848}
];
svg.selectAll("text.sec").data(titles).join("text").attr("class","sec")
  .attr("x",d=>d.x).attr("y",d=>d.y).attr("font-size",20).attr("fill","#000")
  .style("font-family",FONT).text(d=>d.t);

panels.forEach((p,i)=>{
  const x = d3.scaleLinear().domain(p.xd).range(p.x);
  const y = d3.scaleLinear().domain(p.yd).range([p.y[1], p.y[0]]);
  const g = svg.append("g");
  const cid = "clip"+i;
  g.append("clipPath").attr("id",cid).append("rect")
    .attr("x",p.x[0]).attr("y",p.y[0]).attr("width",p.x[1]-p.x[0]).attr("height",p.y[1]-p.y[0]);
  // strip title
  g.append("text").attr("x",(p.x[0]+p.x[1])/2).attr("y",p.y[0]-10)
    .attr("text-anchor","middle").attr("font-size",13.5).attr("fill","#1a1a1a")
    .style("font-family",FONT).text(p.t);
  // points
  g.append("g").attr("clip-path",`url(#${cid})`).selectAll("circle").data(p.d).join("circle")
    .attr("cx",d=>x(d[0])).attr("cy",d=>y(d[1])).attr("r",0.95).attr("fill","#111");
  // triangles
  g.append("g").attr("clip-path",`url(#${cid})`).selectAll("path").data(p.tri).join("path")
    .attr("d",d=>{const cx=x(d[0]), b=p.y[1]; return `M${cx-4.5},${b}L${cx+4.5},${b}L${cx},${b-7.5}Z`;})
    .attr("fill",d=>d[1]);
  // frame
  g.append("rect").attr("x",p.x[0]).attr("y",p.y[0]).attr("width",p.x[1]-p.x[0]).attr("height",p.y[1]-p.y[0])
    .attr("fill","none").attr("stroke","#555").attr("stroke-width",1.1);
  g.append("line").attr("x1",p.x[0]).attr("x2",p.x[1]).attr("y1",p.y[1]).attr("y2",p.y[1])
    .attr("stroke","#111").attr("stroke-width",1.4);
  if (p.yt) {
    g.append("line").attr("x1",p.x[0]).attr("x2",p.x[0]).attr("y1",p.y[0]).attr("y2",p.y[1])
      .attr("stroke","#111").attr("stroke-width",1.4);
    const ya = g.append("g").attr("transform",`translate(${p.x[0]},0)`)
      .call(d3.axisLeft(y).tickValues(p.yt).tickFormat(f0).tickSize(4).tickPadding(2));
    ya.select(".domain").remove();
    ya.selectAll("line").attr("stroke","#333");
    ya.selectAll("text").attr("font-size",p.ys||13.5).attr("fill","#4d4d4d").style("font-family",FONT);
  }
  if (p.xt) {
    const xa = g.append("g").attr("transform",`translate(0,${p.y[1]})`)
      .call(d3.axisBottom(x).tickValues(p.xt).tickFormat(p.xf).tickSize(4).tickPadding(3));
    xa.select(".domain").remove();
    xa.selectAll("line").attr("stroke","#333");
    xa.selectAll("text").attr("font-size",13.5).attr("fill","#4d4d4d").style("font-family",FONT);
  }
});

// axis titles
svg.append("text").attr("x",385).attr("y",487).attr("text-anchor","middle")
  .attr("font-size",16).style("font-family",FONT).text("Position (Mbp)");
svg.append("text").attr("x",213).attr("y",985).attr("text-anchor","middle")
  .attr("font-size",16).style("font-family",FONT).text("Position (Mbp)");
svg.append("text").attr("transform","translate(15,250) rotate(-90)").attr("text-anchor","middle")
  .attr("font-size",16).style("font-family",FONT).text("Negative logarithm of p\u2212value");
</script>
</body></html>
